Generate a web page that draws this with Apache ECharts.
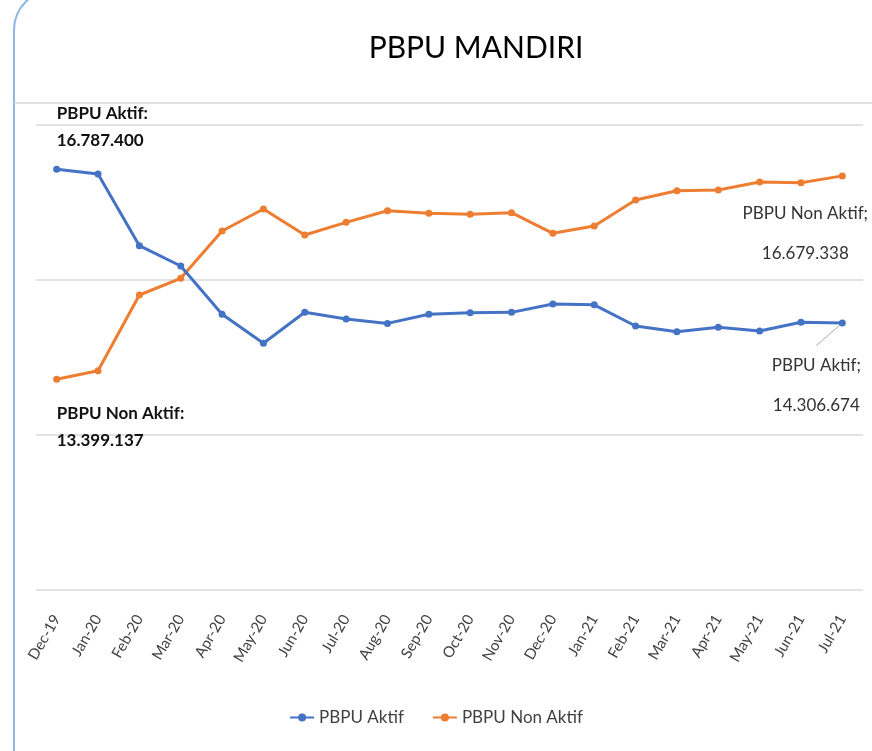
<!DOCTYPE html>
<html>
<head>
<meta charset="utf-8">
<script src="https://cdn.jsdelivr.net/npm/echarts@6/dist/echarts.min.js"></script>
<style>html,body{margin:0;padding:0;background:#fff;}#c{width:872px;height:751px;}</style>
</head>
<body>
<div id="c"></div>
<script>
const categories = ['Dec-19','Jan-20','Feb-20','Mar-20','Apr-20','May-20','Jun-20','Jul-20','Aug-20','Sep-20','Oct-20','Nov-20','Dec-20','Jan-21','Feb-21','Mar-21','Apr-21','May-21','Jun-21','Jul-21'];
const aktif = [16787400,16710000,15553000,15226000,14447000,13979000,14479000,14371000,14300000,14447000,14473000,14478000,14613000,14600000,14258000,14166000,14237000,14177000,14318000,14306674];
const nonAktif = [13399137,13537000,14758000,15027000,15790000,16145000,15726000,15930000,16118000,16075000,16060000,16086000,15753000,15871000,16290000,16440000,16452000,16580000,16570000,16679338];
const seriesNames = ['PBPU Aktif','PBPU Non Aktif'];
const yTicks = {min: 10000000, max: 17500000, interval: 2500000};

function fmt(v){ return String(v).replace(/\B(?=(\d{3})+(?!\d))/g,'.'); }

const font = 'Lato, "Open Sans", sans-serif';

function buildData(vals, name, firstPos, firstDist, lastCfg){
  return vals.map((v,i)=>{
    if(i===0){
      return {value:v, label:{show:true, position:firstPos, distance:firstDist, align:'left',
        formatter: name + ':\n' + fmt(v), fontFamily:font, fontWeight:'bold', fontSize:17, lineHeight:27, color:'#111'}};
    }
    if(i===vals.length-1){
      return {value:v, label:Object.assign({show:true, align:'center',
        formatter: name + ';\n' + fmt(v), fontFamily:font, fontSize:17, lineHeight:40, color:'#333'}, lastCfg.label),
        labelLine: lastCfg.labelLine};
    }
    return v;
  });
}

const lastIdx = categories.length - 1;

const chart = echarts.init(document.getElementById('c'));
chart.setOption({
  animation:false,
  title:{text:'PBPU MANDIRI', left:471, top:28, textAlign:'center',
    textStyle:{fontFamily:font, fontSize:30, fontWeight:'normal', color:'#000'}},
  graphic:[
    {type:'rect', shape:{x:14, y:-10, width:2000, height:2000, r:40}, style:{fill:'none', stroke:'#8db6e2', lineWidth:2}, silent:true},
    {type:'line', shape:{x1:14, y1:103, x2:872, y2:103}, style:{stroke:'#d9d9d9', lineWidth:1.5}, silent:true}
  ],
  legend:{data:seriesNames, left:'center', top:704, itemWidth:24, itemHeight:10, itemGap:28,
    textStyle:{fontFamily:font, fontSize:17, color:'#404040'}},
  grid:{left:36, right:9, top:125, bottom:161},
  xAxis:{type:'category', data:categories, boundaryGap:true,
    axisLine:{show:false}, axisTick:{show:false},
    axisLabel:{rotate:60, margin:26, fontFamily:font, fontSize:15, color:'#404040', interval:0}},
  yAxis:{type:'value', min:yTicks.min, max:yTicks.max, interval:yTicks.interval,
    axisLabel:{show:false}, axisLine:{show:false}, axisTick:{show:false},
    splitLine:{lineStyle:{color:'#d9d9d9', width:1.5}}},
  series:[
    {name:seriesNames[0], type:'line', color:'#4472C4', symbol:'circle', symbolSize:7,
      lineStyle:{width:3}, z:3,
      labelLine:{show:false, lineStyle:{color:'#a6a6a6', width:1}},
      labelLayout:function(p){ return p.dataIndex===lastIdx ? {dx:-26, dy:0} : {}; },
      data: buildData(aktif, seriesNames[0], 'top', 12,
        {label:{position:'bottom', distance:19}, labelLine:{show:true, lineStyle:{color:'#a6a6a6', width:1}}})},
    {name:seriesNames[1], type:'line', color:'#ED7D31', symbol:'circle', symbolSize:7,
      lineStyle:{width:3}, z:2,
      data: buildData(nonAktif, seriesNames[1], 'bottom', 17,
        {label:{position:'bottom', distance:14, offset:[-37,0]}, labelLine:{show:false}})}
  ]
});
</script>
</body>
</html>
